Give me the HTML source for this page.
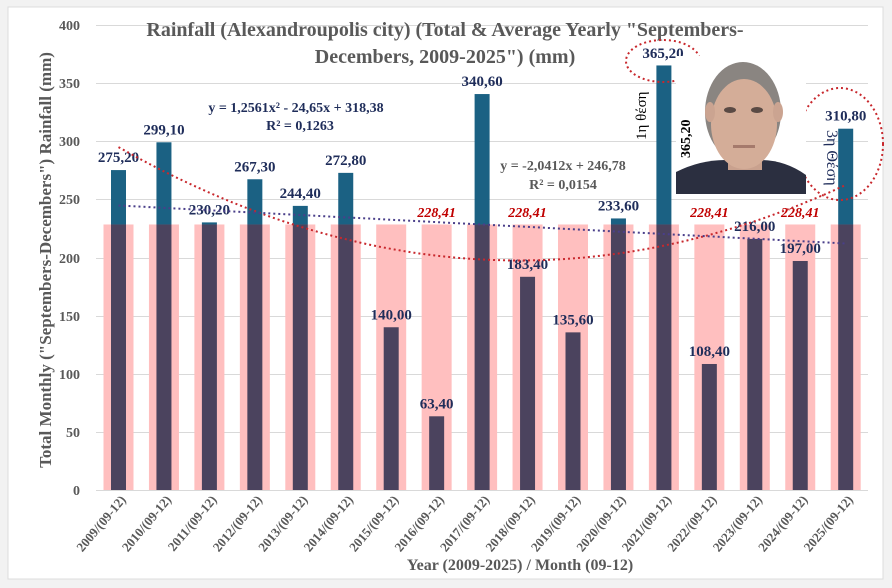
<!DOCTYPE html>
<html><head><meta charset="utf-8"><style>
html,body{margin:0;padding:0;background:#f0f0f0;}
svg{display:block;}
text{font-family:"Liberation Serif",serif;}
</style></head><body>
<svg width="892" height="588" viewBox="0 0 892 588" xmlns="http://www.w3.org/2000/svg">
<rect x="0" y="0" width="892" height="588" fill="#f2f2f2"/>
<rect x="8" y="7" width="875" height="572" fill="#fff" stroke="#dcdcdc"/>
<g stroke="#d9d9d9" stroke-width="1">
<line x1="96" y1="25.5" x2="868" y2="25.5"/>
<line x1="96" y1="83.5" x2="868" y2="83.5"/>
<line x1="96" y1="141.5" x2="868" y2="141.5"/>
<line x1="96" y1="199.5" x2="868" y2="199.5"/>
<line x1="96" y1="258.5" x2="868" y2="258.5"/>
<line x1="96" y1="316.5" x2="868" y2="316.5"/>
<line x1="96" y1="374.5" x2="868" y2="374.5"/>
<line x1="96" y1="432.5" x2="868" y2="432.5"/>
<line x1="96" y1="490.5" x2="868" y2="490.5"/>
</g>
<g font-size="14" fill="#595959" font-weight="bold" text-anchor="end">
<text x="80" y="30">400</text><text x="80" y="88">350</text><text x="80" y="146">300</text><text x="80" y="204">250</text><text x="80" y="263">200</text><text x="80" y="321">150</text><text x="80" y="379">100</text><text x="80" y="437">50</text><text x="80" y="495">0</text>
</g>
<g id="bars"></g>
<script>
(function(){
var vals=[275.2,299.1,230.2,267.3,244.4,272.8,140,63.4,340.6,183.4,135.6,233.6,365.2,108.4,216,197,310.8];
var avg=228.41, ns="http://www.w3.org/2000/svg", g=document.getElementById('bars');
function Y(v){return 490-v*1.1625;}
function r(x,y,w,h,f){var e=document.createElementNS(ns,'rect');e.setAttribute('x',x);e.setAttribute('y',y);e.setAttribute('width',w);e.setAttribute('height',h);e.setAttribute('fill',f);g.appendChild(e);}
function t(x,y,s,a){var e=document.createElementNS(ns,'text');e.setAttribute('x',x);e.setAttribute('y',y);e.textContent=s;for(var k in a)e.setAttribute(k,a[k]);g.appendChild(e);}
for(var i=0;i<17;i++){
 var c=118.5+i*45.45;
 r(c-15,Y(avg),30,490-Y(avg),'#ffbfbf');
 var v=vals[i];
 if(v>avg){r(c-7.5,Y(v),15,Y(avg)-Y(v),'#1b6183');r(c-7.5,Y(avg),15,490-Y(avg),'#4b435e');}
 else r(c-7.5,Y(v),15,490-Y(v),'#4b435e');
 var lbl=v.toFixed(2).replace('.',',');
 if(i!=12) t(c,Y(v)-8,lbl,{'font-size':'15','font-weight':'bold','fill':'#1f2d5a','text-anchor':'middle'});
 var yr=2009+i;
 t(0,0,yr+'/(09-12)',{'font-size':'13','fill':'#595959','font-weight':'bold','text-anchor':'end','transform':'translate('+(c+8)+',500) rotate(-50)'});
}
[7,9,13,15].forEach(function(i){var c=118.5+i*45.45;t(c,217,'228,41',{'font-size':'14','font-weight':'bold','font-style':'italic','fill':'#c00000','text-anchor':'middle','font-family':'Liberation Sans, sans-serif'});});
t(663,58,'365,20',{'font-size':'15','font-weight':'bold','fill':'#1f2d5a','text-anchor':'middle'});
var p1='',p2='';
for(var x=1;x<=17;x+=0.25){var px=118.5+(x-1)*45.45;p1+=(x==1?'M':'L')+px.toFixed(1)+','+Y(1.2561*x*x-24.65*x+318.38).toFixed(1);}
p2='M118.5,'+Y(-2.0412+246.78).toFixed(1)+'L845.7,'+Y(-2.0412*17+246.78).toFixed(1);
var a=document.createElementNS(ns,'path');a.setAttribute('d',p1);a.setAttribute('fill','none');a.setAttribute('stroke','#c8282d');a.setAttribute('stroke-width','2');a.setAttribute('stroke-dasharray','2,3');g.appendChild(a);
var b=document.createElementNS(ns,'path');b.setAttribute('d',p2);b.setAttribute('fill','none');b.setAttribute('stroke','#4a3f8a');b.setAttribute('stroke-width','2');b.setAttribute('stroke-dasharray','2,3');g.appendChild(b);
})();
</script>
<text x="445" y="36" font-size="20" font-weight="bold" fill="#595959" text-anchor="middle">Rainfall (Alexandroupolis city) (Total &amp; Average Yearly "Septembers-</text>
<text x="445" y="63" font-size="20" font-weight="bold" fill="#595959" text-anchor="middle">Decembers, 2009-2025") (mm)</text>
<text x="296" y="112" font-size="14" font-weight="bold" fill="#1f2d5a" text-anchor="middle">y = 1,2561x² - 24,65x + 318,38</text>
<text x="300" y="130" font-size="14" font-weight="bold" fill="#1f2d5a" text-anchor="middle">R² = 0,1263</text>
<text x="563" y="170" font-size="14" font-weight="bold" fill="#595959" text-anchor="middle">y = -2,0412x + 246,78</text>
<text x="563" y="189" font-size="14" font-weight="bold" fill="#595959" text-anchor="middle">R² = 0,0154</text>
<ellipse cx="663" cy="61" rx="37" ry="21" fill="none" stroke="#c8282d" stroke-width="2" stroke-dasharray="2,3"/>
<ellipse cx="840" cy="144" rx="43" ry="56" fill="none" stroke="#c8282d" stroke-width="2" stroke-dasharray="2,3"/>
<rect x="676" y="56" width="130" height="138" fill="#fff"/>
<path d="M676,194 L676,172 Q700,160 725,160 L760,160 Q785,160 806,175 L806,194 Z" fill="#2b2f40"/>
<rect x="728" y="140" width="34" height="30" fill="#c9a18e"/>
<ellipse cx="743" cy="112" rx="38" ry="50" fill="#8a8581"/>
<ellipse cx="744" cy="124" rx="33" ry="45" fill="#d4ad98"/>
<ellipse cx="710" cy="112" rx="5" ry="10" fill="#cba491"/>
<ellipse cx="778" cy="112" rx="5" ry="10" fill="#cba491"/>
<ellipse cx="730" cy="110" rx="6" ry="3" fill="#5a4a44"/>
<ellipse cx="757" cy="110" rx="6" ry="3" fill="#5a4a44"/>
<rect x="733" y="145" width="22" height="3" fill="#a57a6c"/>
<text transform="translate(646,140) rotate(-90)" font-size="15" fill="#000" font-family="Liberation Sans, sans-serif">1η θέση</text>
<text transform="translate(690,158) rotate(-90)" font-size="14" fill="#000" font-weight="bold" font-family="Liberation Sans, sans-serif">365,20</text>
<text transform="translate(827,130) rotate(90)" font-size="16" fill="#1f2d5a" font-family="Liberation Sans, sans-serif">3η Θέση</text>
<text transform="translate(51,260) rotate(-90)" font-size="17" font-weight="bold" fill="#595959" text-anchor="middle">Total Monthly ("Septembers-Decembers") Rainfall (mm)</text>
<text x="520" y="570" font-size="16" font-weight="bold" fill="#595959" text-anchor="middle">Year (2009-2025) / Month (09-12)</text>
</svg>
</body></html>
